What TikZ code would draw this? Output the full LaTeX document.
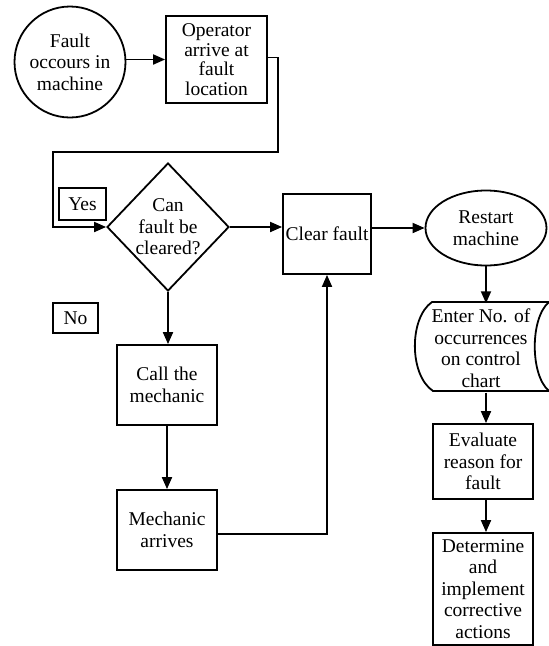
\documentclass[tikz,border=0pt]{standalone}
\usepackage{fontspec}
\setmainfont{Liberation Serif}
\usetikzlibrary{shapes.geometric,arrows.meta}
\begin{document}
\begin{tikzpicture}[x=1pt,y=-1pt,
  every node/.style={font=\fontsize{19.5}{21.5}\selectfont, align=center, inner sep=0pt},
  boxnode/.style={draw, line width=1.8pt, rectangle},
  flow/.style={line width=1.8pt, -{Triangle[length=12pt,width=10pt]}},
  plain/.style={line width=1.8pt}]
\useasboundingbox (0,0) rectangle (549,646);

% start and first action
\node[draw, circle, line width=1.8pt, minimum size=111pt] (fault) at (70,62) {Fault\\occours in\\machine};
\node[boxnode, minimum width=101pt, minimum height=87pt, font=\fontsize{19.5}{19.5}\selectfont] (oper) at (216.5,59.5) {Operator\\arrive at\\fault\\location};

% decision
\node[draw, diamond, line width=1.8pt, minimum width=122pt, minimum height=128pt,
      label={center:Can\\fault be\\cleared?}] (dia) at (168,227) {};
\node[boxnode, minimum width=47pt, minimum height=32pt] (yes) at (82.5,204) {Yes};
\node[boxnode, minimum width=45pt, minimum height=30pt] (no) at (75.5,318) {No};

% main branch
\node[boxnode, minimum width=88pt, minimum height=80pt] (clear) at (327,234) {Clear fault};
\node[draw, ellipse, line width=1.8pt, minimum width=121pt, minimum height=75pt] (restart) at (486,228) {Restart\\machine};
\node[minimum width=136pt, minimum height=89pt] (enter) at (481,348) {Enter No. of\\occurrences\\on control\\chart};
\draw[plain] (432,302) -- (549,302) .. controls (530,318) and (530,375) .. (549,391)
  -- (433,391) .. controls (409,375) and (409,318) .. cycle;
\node[boxnode, minimum width=100pt, minimum height=75pt] (eval) at (483,461.5) {Evaluate\\reason for\\fault};
\node[boxnode, minimum width=100pt, minimum height=112pt] (det) at (483,589) {Determine\\and\\implement\\corrective\\actions};

% mechanic branch
\node[boxnode, minimum width=100pt, minimum height=80pt] (call) at (167,385) {Call the\\mechanic};
\node[boxnode, minimum width=100pt, minimum height=80pt] (mech) at (167,530) {Mechanic\\arrives};

% connectors
\coordinate (c1) at (278,152);
\coordinate (c2) at (53,152);
\draw[flow] (fault.east |- oper.west) -- (oper.west);
\draw[flow] ([yshift=2pt]oper.east) -| (c1) -- (c2) |- (dia.west);
\draw[flow] (dia.east) -- (dia.east -| clear.west);
\draw[flow] (clear.east |- restart.west) -- (restart.west);
\draw[flow] (restart.south) -- (restart.south |- enter.north);
\draw[flow] (restart.south |- enter.south) -- (restart.south |- eval.north);
\draw[flow] (restart.south |- eval.south) -- (restart.south |- det.north);
\draw[flow] (dia.south) -- (dia.south |- call.north);
\draw[flow] (call.south) -- (mech.north);
\draw[flow] ([yshift=-4pt]mech.east) -| (clear.south);
\end{tikzpicture}
\end{document}
